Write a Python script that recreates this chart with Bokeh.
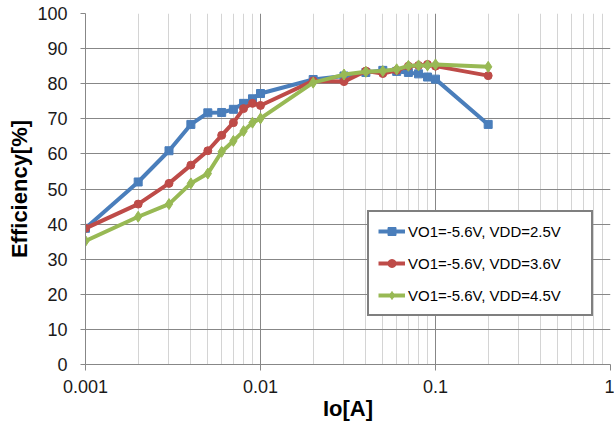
from bokeh.plotting import figure
from bokeh.models import FixedTicker, Range1d, Legend, LegendItem
from bokeh.embed import file_html
from bokeh.resources import INLINE

io_a = [0.001, 0.002, 0.003, 0.004, 0.005, 0.006, 0.007, 0.008, 0.009, 0.01,
        0.02, 0.03, 0.04, 0.05, 0.06, 0.07, 0.08, 0.09, 0.1, 0.2]
eff_vdd25 = [38.8, 52.0, 60.9, 68.4, 71.7, 71.8, 72.7, 74.4, 75.7, 77.2,
             81.2, 82.2, 83.2, 83.8, 83.5, 83.2, 82.8, 81.9, 81.3, 68.4]
eff_vdd36 = [38.8, 45.7, 51.6, 56.8, 60.9, 65.3, 68.9, 72.9, 74.4, 73.8,
             80.8, 80.6, 83.6, 82.9, 83.8, 85.0, 85.2, 85.5, 85.0, 82.3]
eff_vdd45 = [35.2, 42.1, 45.7, 51.6, 54.4, 60.6, 63.7, 66.5, 68.9, 70.1,
             80.3, 82.6, 83.4, 83.6, 84.1, 85.1, 85.2, 85.2, 85.5, 84.8]
series_labels = ["VO1=-5.6V, VDD=2.5V", "VO1=-5.6V, VDD=3.6V", "VO1=-5.6V, VDD=4.5V"]
x_major = [0.001, 0.01, 0.1, 1]
x_minor = [m * d for d in [0.001, 0.01, 0.1] for m in range(2, 10)]
y_ticks = list(range(0, 101, 10))

FONT = "Liberation Sans"
GRID = "#878787"
MINOR = "#d4d4d4"

p = figure(width=614, height=431, x_axis_type="log", output_backend="svg",
           toolbar_location=None, x_range=Range1d(0.001, 1), y_range=Range1d(0, 100),
           min_border_left=85, min_border_right=4, min_border_top=13, min_border_bottom=67)
p.outline_line_color = None
p.background_fill_color = "white"

p.xaxis.ticker = FixedTicker(ticks=x_major, minor_ticks=x_minor)
p.yaxis.ticker = FixedTicker(ticks=y_ticks)
p.xaxis.major_label_overrides = {0.001: "0.001", 0.01: "0.01", 0.1: "0.1", 1: "1"}

for ax in (p.xaxis, p.yaxis):
    ax.axis_line_color = GRID
    ax.major_tick_line_color = GRID
    ax.major_tick_in = 0
    ax.minor_tick_in = 0
    ax.minor_tick_out = 0
    ax.major_label_text_font = FONT
    ax.major_label_text_font_size = "18px"
    ax.major_label_text_color = "#1a1a1a"
    ax.axis_label_text_font = FONT
    ax.axis_label_text_font_size = "22px"
    ax.axis_label_text_font_style = "bold"
    ax.axis_label_text_color = "#000000"

p.xaxis.major_tick_out = 6
p.yaxis.major_tick_out = 5
p.xaxis.major_label_standoff = 9
p.yaxis.major_label_standoff = 13
p.xaxis.axis_label_standoff = 0
p.yaxis.axis_label_standoff = 2
p.xaxis.axis_label = "Io[A]"
p.yaxis.axis_label = "Efficiency[%]"

p.xgrid.grid_line_color = GRID
p.xgrid.minor_grid_line_color = MINOR
p.ygrid.grid_line_color = GRID

colors = ["#4a7ebb", "#be4b48", "#98b954"]
markers = ["square", "circle", "diamond"]
sizes = [8, 8, 11]
items = []
for ys, c, m, s, lab in zip([eff_vdd25, eff_vdd36, eff_vdd45], colors, markers, sizes, series_labels):
    r1 = p.line(io_a, ys, line_color=c, line_width=4)
    r2 = p.scatter(io_a, ys, marker=m, size=s, fill_color=c, line_color=c)
    items.append(LegendItem(label=lab, renderers=[r1, r2]))

legend = Legend(items=items, location=(282, 48))
legend.label_text_font = FONT
legend.label_text_font_size = "15px"
legend.label_text_color = "#000000"
legend.border_line_color = "#000000"
legend.border_line_width = 2
legend.background_fill_color = "white"
legend.background_fill_alpha = 1
legend.padding = 9
legend.spacing = 12
legend.glyph_width = 27
legend.glyph_height = 20
legend.label_height = 20
legend.label_standoff = 3
legend.label_width = 174
legend.margin = 0
p.add_layout(legend)

open("out.html", "w").write(file_html(p, INLINE))
